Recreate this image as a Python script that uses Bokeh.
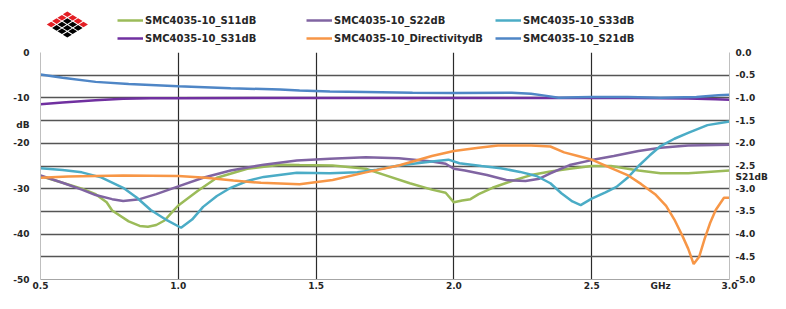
from bokeh.plotting import figure
from bokeh.layouts import column
from bokeh.models import (Range1d, LinearAxis, FixedTicker, PrintfTickFormatter,
                          Legend, LegendItem)
from bokeh.embed import file_html
from bokeh.resources import INLINE

# ---------------- data ----------------
freq_s11 = [0.50, 0.58, 0.65, 0.70, 0.74, 0.76, 0.82, 0.86, 0.89, 0.92, 0.95, 0.98, 1.00,
            1.07, 1.14, 1.25, 1.37, 1.44, 1.56, 1.68, 1.75, 1.84, 1.92, 1.97, 2.00, 2.03,
            2.06, 2.09, 2.14, 2.21, 2.28, 2.35, 2.42, 2.50, 2.57, 2.67, 2.75, 2.85, 2.92, 3.00]
s11_db = [-27.2, -28.7, -30.0, -31.2, -33.0, -34.8, -37.2, -38.2, -38.4, -38.0, -37.0, -35.0, -33.7,
          -30.5, -27.6, -25.6, -24.7, -24.8, -24.9, -25.6, -27.0, -28.8, -30.2, -30.9, -33.0, -32.6,
          -32.3, -31.2, -29.8, -28.3, -27.0, -26.2, -25.6, -25.0, -25.0, -26.0, -26.6, -26.6, -26.3, -26.0]

freq_s22 = [0.50, 0.58, 0.65, 0.70, 0.76, 0.80, 0.86, 0.92, 1.00, 1.09, 1.19, 1.31, 1.43, 1.55,
            1.68, 1.80, 1.92, 1.97, 2.00, 2.04, 2.12, 2.19, 2.26, 2.31, 2.35, 2.42, 2.50, 2.58,
            2.67, 2.75, 2.85, 3.00]
s22_db = [-27.1, -28.7, -30.2, -31.4, -32.3, -32.7, -32.3, -31.2, -29.5, -27.6, -26.0, -24.7, -23.8, -23.4,
          -23.1, -23.3, -24.0, -24.5, -25.6, -26.0, -27.0, -28.1, -28.3, -27.8, -26.6, -24.8, -23.7, -22.8,
          -21.7, -21.0, -20.5, -20.3]

freq_s33 = [0.50, 0.58, 0.65, 0.72, 0.80, 0.85, 0.90, 0.96, 1.01, 1.05, 1.09, 1.14, 1.19, 1.25,
            1.31, 1.43, 1.55, 1.65, 1.72, 1.80, 1.92, 1.98, 2.02, 2.10, 2.17, 2.24, 2.30, 2.35,
            2.39, 2.43, 2.46, 2.50, 2.55, 2.59, 2.63, 2.67, 2.71, 2.75, 2.80, 2.85, 2.92, 3.00]
s33_db = [-25.5, -25.9, -26.4, -27.5, -29.8, -32.0, -34.7, -37.0, -38.6, -36.8, -34.0, -31.6, -29.8, -28.3,
          -27.4, -26.5, -26.6, -26.4, -25.8, -24.9, -24.0, -23.6, -24.4, -25.0, -25.5, -26.3, -27.2, -28.8,
          -31.0, -32.8, -33.6, -32.2, -30.8, -29.6, -27.6, -25.0, -22.7, -20.6, -19.0, -17.7, -16.0, -15.2]

freq_s31 = [0.50, 0.58, 0.70, 0.80, 0.90, 1.00, 1.50, 2.00, 2.50, 2.65, 2.75, 2.85, 2.95, 3.00]
s31_db = [-11.4, -11.0, -10.5, -10.2, -10.1, -10.05, -10.0, -10.0, -10.0, -10.0, -10.05, -10.15, -10.3, -10.4]

freq_dir = [0.50, 0.60, 0.80, 1.00, 1.10, 1.20, 1.30, 1.44, 1.56, 1.68, 1.80, 1.92, 2.00, 2.09,
            2.16, 2.28, 2.35, 2.40, 2.45, 2.50, 2.56, 2.63, 2.68, 2.73, 2.77, 2.80, 2.83, 2.85,
            2.87, 2.89, 2.91, 2.93, 2.95, 2.98, 3.00]
dir_db = [-27.6, -27.3, -27.1, -27.2, -27.6, -28.2, -28.7, -29.0, -28.1, -26.4, -24.9, -22.8, -21.7, -21.0,
          -20.5, -20.5, -20.7, -22.0, -22.8, -23.6, -25.2, -27.0, -29.0, -31.2, -33.8, -36.8, -40.5, -43.2,
          -46.6, -45.0, -41.0, -37.5, -34.7, -32.0, -32.0]

freq_s21 = [0.50, 0.58, 0.70, 0.82, 1.00, 1.19, 1.37, 1.44, 1.55, 1.68, 1.85, 2.00, 2.21, 2.28,
            2.33, 2.38, 2.45, 2.50, 2.63, 2.75, 2.88, 2.96, 3.00]
s21_db = [-0.485, -0.555, -0.647, -0.696, -0.745, -0.788, -0.816, -0.837, -0.860, -0.870, -0.885, -0.893,
          -0.886, -0.907, -0.950, -0.999, -0.985, -0.980, -0.980, -0.995, -0.980, -0.940, -0.930]

series_names = ["SMC4035-10_S11dB", "SMC4035-10_S22dB", "SMC4035-10_S33dB",
                "SMC4035-10_S31dB", "SMC4035-10_DirectivitydB", "SMC4035-10_S21dB"]
series_colors = ["#9BBB59", "#8064A2", "#4BACC6", "#7030A0", "#F79646", "#4F86C6"]

x_ticks = [0.5, 1.0, 1.5, 2.0, 2.5, 2.75, 3.0]
x_tick_overrides = {2.75: "GHz"}
left_ticks = [0, -10, -16, -20, -30, -40, -50]
left_tick_overrides = {-16: "dB"}
right_ticks = [0.0, -0.5, -1.0, -1.5, -2.0, -2.5, -2.75, -3.0, -3.5, -4.0, -4.5, -5.0]
right_tick_overrides = {-2.75: "S21dB"}
hgrid_ticks = [-5, -10, -15, -20, -25, -30, -35, -40, -45]
vgrid_ticks = [1.0, 1.5, 2.0, 2.5]

FONT = "DejaVu Sans"
TXT = "#262626"
W = 770
TOP_H = 46
MAIN_H = 247

# ---------------- header strip: logo + legend ----------------
top = figure(width=W, height=TOP_H, output_backend="svg", toolbar_location=None,
             x_range=Range1d(0, W), y_range=Range1d(TOP_H, 0),
             x_axis_location=None, y_axis_location=None,
             min_border_left=0, min_border_right=0, min_border_top=0, min_border_bottom=0)
top.outline_line_color = None
top.xgrid.visible = False
top.ygrid.visible = False
top.background_fill_color = "white"
top.border_fill_color = "white"

# logo: 4x4 grid of rotated squares, red along the two upper edges, black below
lx, ly, ldx, ldy, hw, hh = 30.0, 13.8, 6.0, 3.4, 5.0, 2.8
xs, ys, cols = [], [], []
for i in range(4):
    for j in range(4):
        cx = lx + (i - j) * ldx
        cy = ly + (i + j) * ldy
        xs.append([cx, cx + hw, cx, cx - hw])
        ys.append([cy - hh, cy, cy + hh, cy])
        cols.append("#E31E24" if (i == 0 or j == 0) else "#000000")
top.patches(xs, ys, fill_color=cols, line_color=None)

# legend swatches use off-screen copies of the line styles
legend_renderers = [top.line([-60, -50], [-60, -60], line_color=c, line_width=2.5)
                    for c in series_colors]
items = [LegendItem(label=n, renderers=[r]) for n, r in zip(series_names, legend_renderers)]
legend = Legend(items=items, location=(77, 0), orientation="horizontal", ncols=3,
                padding=0, margin=0, spacing=2, glyph_width=26, glyph_height=16,
                label_height=16, label_width=159, label_standoff=2,
                label_text_font=FONT, label_text_font_style="bold",
                label_text_font_size="10px", label_text_color=TXT,
                background_fill_alpha=0, border_line_alpha=0)
top.add_layout(legend)

# ---------------- main chart ----------------
p = figure(width=W, height=MAIN_H, output_backend="svg", toolbar_location=None,
           x_range=Range1d(0.5, 3.0), y_range=Range1d(-50, 0),
           min_border_left=40, min_border_right=38, min_border_top=6, min_border_bottom=12)
p.outline_line_color = None
p.background_fill_color = "white"
p.border_fill_color = "white"
p.extra_y_ranges = {"s21": Range1d(-5.0, 0.0)}

p.xgrid.ticker = FixedTicker(ticks=vgrid_ticks)
p.xgrid.grid_line_color = "#2b2b2b"
p.xgrid.grid_line_width = 1.2
p.ygrid.ticker = FixedTicker(ticks=hgrid_ticks)
p.ygrid.grid_line_color = "#555555"
p.ygrid.grid_line_width = 1.4


def style_axis(ax, standoff):
    ax.major_tick_out = 0
    ax.major_tick_in = 0
    ax.minor_tick_line_color = None
    ax.major_label_standoff = standoff
    ax.major_label_text_font = FONT
    ax.major_label_text_font_style = "bold"
    ax.major_label_text_font_size = "9px"
    ax.major_label_text_color = TXT


xa = p.xaxis[0]
xa.ticker = FixedTicker(ticks=x_ticks)
xa.formatter = PrintfTickFormatter(format="%.1f")
xa.major_label_overrides = x_tick_overrides
xa.axis_line_color = "#a6a6a6"
style_axis(xa, 1)

ya = p.yaxis[0]
ya.ticker = FixedTicker(ticks=left_ticks)
ya.formatter = PrintfTickFormatter(format="%d")
ya.major_label_overrides = left_tick_overrides
ya.axis_line_color = "#bfbfbf"
style_axis(ya, 11)

ra = LinearAxis(y_range_name="s21", ticker=FixedTicker(ticks=right_ticks),
                formatter=PrintfTickFormatter(format="%.1f"))
ra.major_label_overrides = right_tick_overrides
ra.axis_line_color = "#bfbfbf"
style_axis(ra, 6)
p.add_layout(ra, "right")

data = [(freq_s11, s11_db, "default"), (freq_s22, s22_db, "default"), (freq_s33, s33_db, "default"),
        (freq_s31, s31_db, "default"), (freq_dir, dir_db, "default"), (freq_s21, s21_db, "s21")]
for (fx, fy, rng), col in zip(data, series_colors):
    p.line(fx, fy, line_color=col, line_width=2.5, y_range_name=rng)

layout = column(top, p)
open("out.html", "w").write(file_html(layout, INLINE))
